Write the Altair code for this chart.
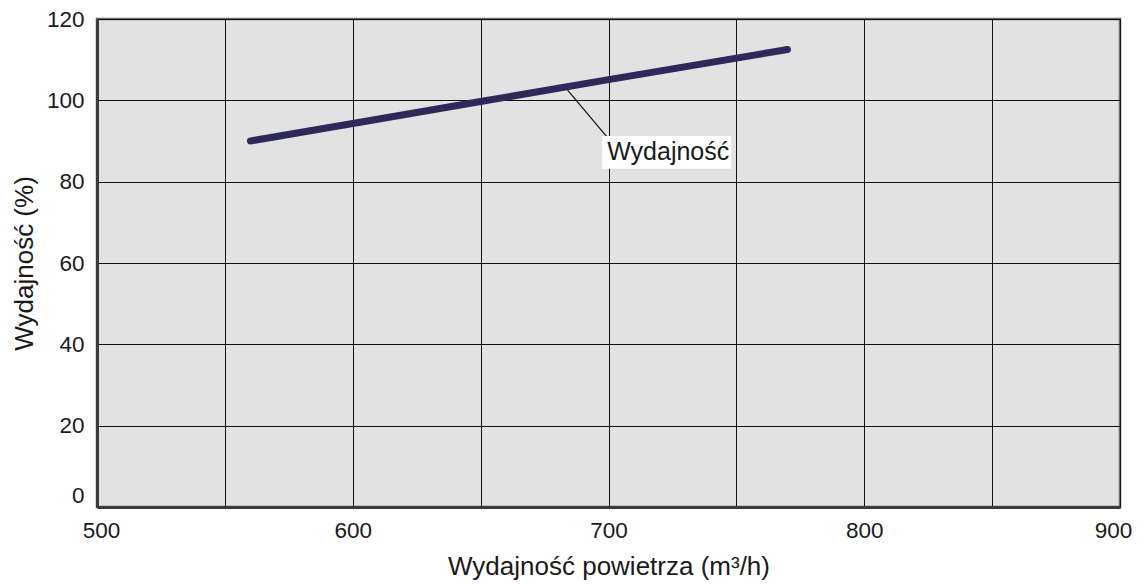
import altair as alt
import pandas as pd

# data
flow = [560, 600, 650, 700, 770]
efficiency = [90.0, 94.3, 99.7, 105.1, 112.5]

label_text = ["Wydajność"]
label_x = [699.5]
label_y = [85.3]
box_x = [697.5]
box_x2 = [748.0]
box_y = [83.2]
box_y2 = [91.2]
leader_x = [684.0]
leader_x2 = [699.8]
leader_y = [102.5]
leader_y2 = [90.7]

x_grid = [500, 550, 600, 650, 700, 750, 800, 850, 900]
y_grid = [0, 20, 40, 60, 80, 100, 120]

FONT = "Liberation Sans"

df = pd.DataFrame({"x": flow, "y": efficiency})
ann = pd.DataFrame({"text": label_text, "tx": label_x, "ty": label_y,
                    "bx": box_x, "bx2": box_x2, "by": box_y, "by2": box_y2,
                    "lx": leader_x, "lx2": leader_x2, "ly": leader_y, "ly2": leader_y2})

xs = alt.Scale(domain=[500, 900], nice=False, zero=False)
ys = alt.Scale(domain=[0, 120], nice=False)

line = alt.Chart(df).mark_line(color="#2d2a5a", strokeWidth=7, strokeCap="round").encode(
    x=alt.X("x:Q", scale=xs, title="Wydajność powietrza (m³/h)",
            axis=alt.Axis(values=x_grid,
                          labelExpr="datum.value % 100 == 0 ? datum.label : ''",
                          labelFlush=False, titlePadding=12, labelPadding=12,
                          labelOffset={"condition": [
                              {"test": "datum.value == 900", "value": -7},
                              {"test": "datum.value == 500", "value": 4}],
                              "value": 0})),
    y=alt.Y("y:Q", scale=ys, title="Wydajność (%)",
            axis=alt.Axis(values=y_grid, titlePadding=9, labelPadding=13,
                          labelBaseline=alt.condition("datum.value == 0",
                                                      alt.value("bottom"),
                                                      alt.value("middle")))),
)

leader = alt.Chart(ann).mark_rule(color="#111111", strokeWidth=1.2).encode(
    x="lx:Q", x2="lx2:Q", y="ly:Q", y2="ly2:Q")

box = alt.Chart(ann).mark_rect(color="white").encode(
    x="bx:Q", x2="bx2:Q", y="by:Q", y2="by2:Q")

text = alt.Chart(ann).mark_text(align="left", baseline="alphabetic", font=FONT,
                                fontSize=25, color="#1a1a1a").encode(
    x="tx:Q", y="ty:Q", text="text:N")

chart = alt.layer(line, leader, box, text).properties(
    width=1023, height=488,
    autosize=alt.AutoSizeParams(type="none"),
    padding={"left": 89, "top": 11, "right": 16, "bottom": 75},
).configure_view(
    fill="#e2e2e2", stroke="#6a6a6a", strokeWidth=2.5
).configure_axis(
    grid=True, gridColor="#111111", gridWidth=1, gridOpacity=1,
    domainColor="#3a3a36", domainWidth=3,
    ticks=False,
    labelFont=FONT, labelFontSize=22.5, labelColor="#1a1a1a",
    titleFont=FONT, titleFontSize=26, titleFontWeight="normal", titleColor="#1a1a1a",
)

chart.save("out.html", embed_options={"renderer": "svg", "actions": False})
